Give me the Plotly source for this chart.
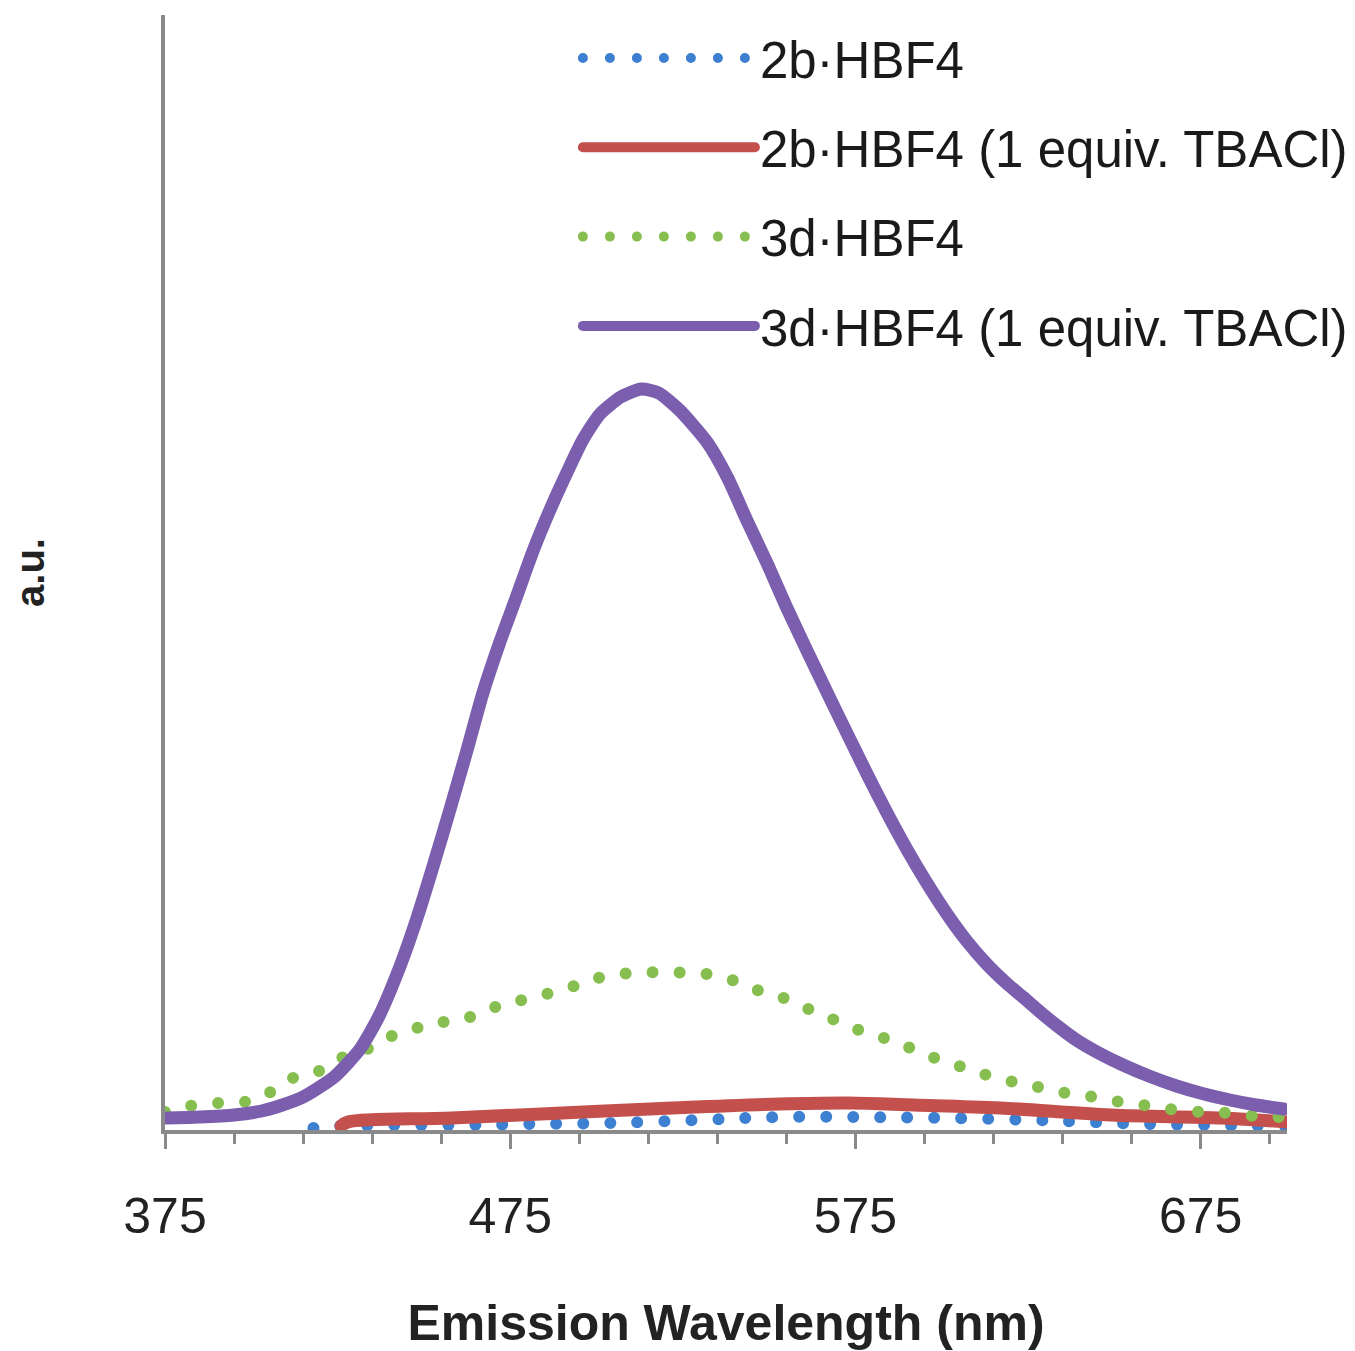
import plotly.graph_objects as go

# Emission spectra (wavelength in nm, intensity in a.u.)
wl_2b = [418, 425, 440, 460, 480, 504, 530, 553, 577, 601, 626, 642, 660, 680, 700]
i_2b = [2, 4, 5, 5, 6, 7, 10, 13, 13, 12, 10, 8, 6, 5, 4]

wl_2b_cl = [426, 428, 458, 490, 522, 553, 573, 592, 617, 649, 681, 700]
i_2b_cl = [4, 8, 12, 17, 22, 26, 27, 25, 22, 15, 12, 8]

wl_3d = [375, 382, 390, 398, 405, 412, 419, 426, 433, 440, 447, 453, 461, 468, 475,
         482, 490, 497, 504, 512, 519, 527, 534, 541, 548, 555, 562, 569, 576, 584,
         591, 598, 606, 613, 621, 628, 636, 644, 652, 660, 668, 676, 683, 691, 699]
i_3d = [18, 24, 27, 28, 37, 52, 58, 72, 80, 93, 101, 107, 110, 120, 127,
        133, 140, 148, 155, 157, 158, 157, 155, 148, 138, 131, 120, 110, 100, 91,
        82, 72, 63, 55, 48, 43, 37, 33, 28, 24, 20, 18, 17, 14, 13]

wl_3d_cl = [375, 385, 395, 403, 409, 415, 424, 431.5, 437, 443, 448, 452.5, 457.5, 462.5,
            467, 472, 477, 481.5, 486.5, 491.5, 496, 501, 507, 513, 518, 524, 532, 538,
            543.5, 549.5, 555, 561, 567, 572.5, 578.5, 584, 590, 595.5, 601.5, 607, 613,
            619, 623.5, 628.5, 633.5, 639, 646, 652.5, 660, 668, 676, 683.5, 691, 699]
i_3d_cl = [12, 13, 15, 19, 25, 33, 53, 81, 114, 163, 212, 262, 320, 380,
           436, 488, 535, 578, 620, 658, 690, 716, 733, 741, 737, 720, 688, 652,
           610, 566, 523, 479, 436, 397, 355, 318, 280, 248, 216, 190, 166,
           146, 133, 118, 104, 90, 76, 65, 54, 44, 36, 30, 25, 21]

names = ["2b·HBF4", "2b·HBF4 (1 equiv. TBACl)", "3d·HBF4", "3d·HBF4 (1 equiv. TBACl)"]

FONT = "Liberation Sans, Arial, sans-serif"
AXIS_GREY = "#8a8a8a"

fig = go.Figure()
fig.add_trace(go.Scatter(x=wl_2b, y=i_2b, mode="lines", name=names[0], legendgroup="a",
                         line=dict(color="#3d7fd1", width=12, dash="0px,27px", shape="spline")))
fig.add_trace(go.Scatter(x=wl_2b_cl, y=i_2b_cl, mode="lines", name=names[1], legendgroup="b",
                         line=dict(color="#c4504d", width=13, shape="spline")))
fig.add_trace(go.Scatter(x=wl_3d, y=i_3d, mode="lines", name=names[2], legendgroup="c",
                         line=dict(color="#86bf50", width=12, dash="0px,27px", shape="spline")))
fig.add_trace(go.Scatter(x=wl_3d_cl, y=i_3d_cl, mode="lines", name=names[3], legendgroup="d",
                         line=dict(color="#7b5fae", width=13, shape="spline", smoothing=0.6)))

# the page body keeps its default 8px margin, so the figure is 16px smaller
fig.update_layout(
    width=1347, height=1343,
    margin=dict(l=157, r=68, t=7, b=221, autoexpand=False),
    paper_bgcolor="white", plot_bgcolor="white",
    font=dict(family=FONT, color="#222222"),
    showlegend=True,
    legend=dict(x=0.368, y=0.997, xanchor="left", yanchor="top",
                font=dict(size=51, family=FONT, color="#1a1a1a"),
                bgcolor="rgba(0,0,0,0)", itemwidth=172, tracegroupgap=20),
    xaxis=dict(range=[375, 700], tick0=375, dtick=100, ticks="outside", ticklen=15,
               tickwidth=3, tickcolor=AXIS_GREY, showline=True, linewidth=4,
               linecolor=AXIS_GREY, showgrid=False, zeroline=False, automargin=False,
               tickfont=dict(size=50, family=FONT, color="#222222"),
               ticklabelstandoff=24,
               minor=dict(dtick=20, tick0=375, ticks="outside", ticklen=10,
                          tickwidth=3, tickcolor=AXIS_GREY, showgrid=False),
               title=dict(text="Emission Wavelength (nm)", standoff=64,
                          font=dict(size=50, family=FONT, weight="bold", color="#222222"))),
    yaxis=dict(range=[0, 1115], showline=True, linewidth=4, linecolor=AXIS_GREY,
               showticklabels=False, ticks="", showgrid=False, zeroline=False,
               automargin=False,
               title=dict(text="a.u.", standoff=108,
                          font=dict(size=40, family=FONT, weight="bold", color="#222222"))),
)

# round line caps so the zero-length dashes render as dots
post = """
var gd = document.getElementById('{plot_id}');
function roundCaps() {
  gd.querySelectorAll('path.js-line').forEach(function (p) {
    p.style.strokeLinecap = 'round';
    p.style.strokeLinejoin = 'round';
  });
}
roundCaps();
gd.on('plotly_afterplot', roundCaps);
setTimeout(roundCaps, 200);
"""

fig.write_html("out.html", post_script=post,
               config={"displayModeBar": False, "responsive": False})
